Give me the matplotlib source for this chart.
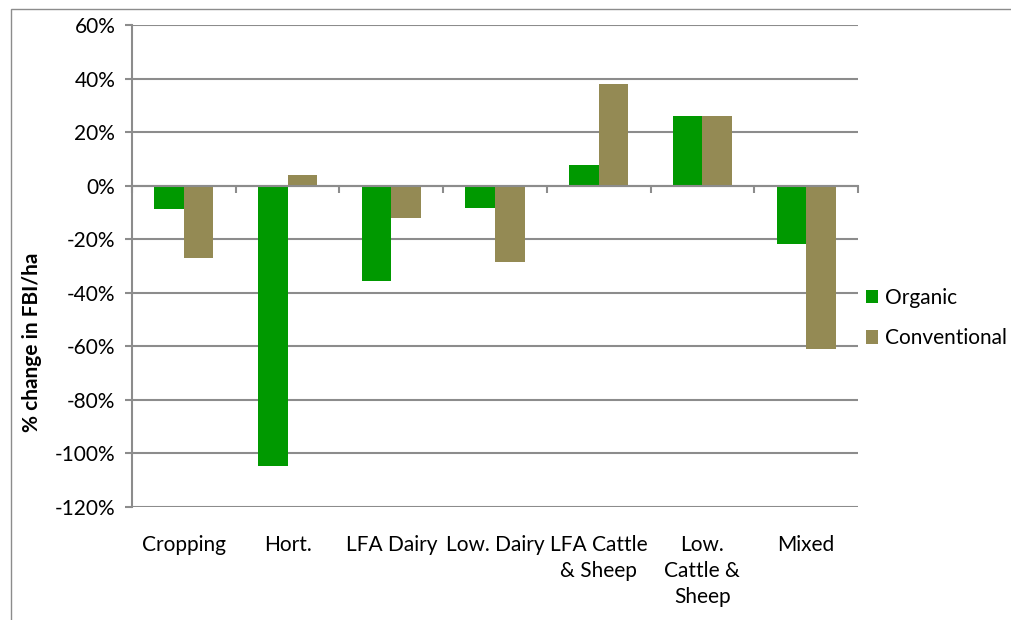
import matplotlib
matplotlib.use('Agg')
import matplotlib.pyplot as plt
import numpy as np
from matplotlib.patches import Rectangle, Patch

categories = ["Cropping", "Hort.", "LFA Dairy", "Low. Dairy",
              "LFA Cattle\n& Sheep", "Low.\nCattle &\nSheep", "Mixed"]
organic = [-8.8, -104.8, -35.6, -8.2, 7.8, 26.0, -21.6]
conventional = [-27.0, 4.0, -12.1, -28.6, 38.1, 26.0, -61.1]
series_names = ["Organic", "Conventional"]
yticks = [-120, -100, -80, -60, -40, -20, 0, 20, 40, 60]
ytick_labels = [f"{v}%" for v in yticks]

plt.rcParams['font.family'] = ['Lato', 'DejaVu Sans']
FS = 15
GRID = '#8c8c8c'
GREEN = '#009900'
OLIVE = '#948A54'

W, H = 1012, 620
fig = plt.figure(figsize=(W / 100, H / 100), dpi=100)
fig.patch.set_facecolor('white')

# outer chart border
fig.add_artist(Rectangle((11 / W, -0.05), 1.2, 1 - 9 / H + 0.05,
                         transform=fig.transFigure, fill=False,
                         edgecolor=GRID, lw=1.0))

ax = fig.add_axes([132 / W, 1 - 507 / H, 726 / W, 482 / H])
x = np.arange(len(categories))
w = 0.285
ax.bar(x - w / 2, organic, w, color=GREEN, zorder=3)
ax.bar(x + w / 2, conventional, w, color=OLIVE, zorder=3)

ax.set_xlim(-0.5, len(categories) - 0.5)
ax.set_ylim(-120, 60)
ax.set_yticks(yticks)
ax.set_yticklabels(ytick_labels, fontsize=FS)
ax.yaxis.grid(True, color=GRID, lw=1.5, zorder=0)
ax.set_axisbelow(True)

for s in ['top', 'right']:
    ax.spines[s].set_visible(False)
ax.spines['left'].set_color(GRID)
ax.spines['left'].set_linewidth(1.5)
ax.spines['bottom'].set_position(('data', 0))
ax.spines['bottom'].set_color(GRID)
ax.spines['bottom'].set_linewidth(1.5)
ax.spines['bottom'].set_zorder(4)

ax.set_xticks(np.arange(-0.5, len(categories), 1.0))
ax.set_xticklabels([])
ax.tick_params(axis='x', direction='out', length=5, width=1.5, color=GRID)
ax.tick_params(axis='y', direction='out', length=5, width=1.5, color=GRID, pad=7)

for i, c in enumerate(categories):
    ax.text(i, -0.058, c, transform=ax.get_xaxis_transform(), ha='center',
            va='top', fontsize=FS, linespacing=1.38)

fig.text(32 / W, 1 - 342 / H, "% change in FBI/ha", rotation=90,
         ha='center', va='center', fontsize=FS, fontweight='bold')

handles = [Patch(facecolor=GREEN), Patch(facecolor=OLIVE)]
fig.legend(handles, series_names, loc='center left',
           bbox_to_anchor=(866 / W, 1 - 318 / H), frameon=False,
           fontsize=FS, handlelength=0.6, handleheight=0.6,
           handletextpad=0.3, labelspacing=1.0, borderaxespad=0,
           borderpad=0)

fig.savefig('out.png', dpi=100, facecolor='white')
